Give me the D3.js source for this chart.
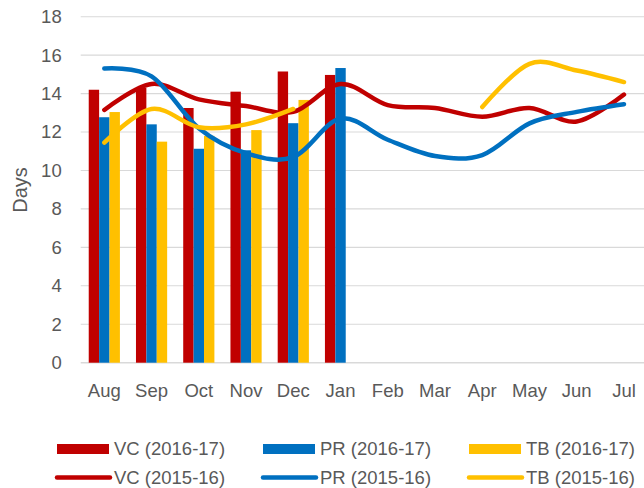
<!DOCTYPE html>
<html>
<head>
<meta charset="utf-8">
<script src="https://cdn.jsdelivr.net/npm/d3@7"></script>
<style>
  body { margin: 0; background: #fff; }
  svg { display: block; font-family: "Liberation Sans", Arial, sans-serif; }
</style>
</head>
<body>
<div id="chart"></div>
<script>
// Days per month: 2016-17 as bars, 2015-16 as smoothed lines

const months = ['Aug', 'Sep', 'Oct', 'Nov', 'Dec', 'Jan', 'Feb', 'Mar', 'Apr', 'May', 'Jun', 'Jul'];
const yTicks = [0, 2, 4, 6, 8, 10, 12, 14, 16, 18];

const vc1617 = [14.2, 14.3, 13.25, 14.1, 15.15, 14.97];
const pr1617 = [12.77, 12.4, 11.13, 11.05, 12.46, 15.33];
const tb1617 = [13.04, 11.5, 11.8, 12.1, 13.67, null];

const vc1516 = [13.15, 14.5, 13.7, 13.35, 13.05, 14.5, 13.4, 13.25, 12.8, 13.25, 12.55, 13.95];
const pr1516 = [15.3, 14.9, 12.2, 10.9, 10.7, 12.7, 11.6, 10.75, 10.8, 12.45, 13.05, 13.45];
const tb1516 = [11.45, 13.2, 12.25, 12.4, 13.2, null, null, null, 13.3, 15.55, 15.2, 14.6];

const barSeries = [
  {name: 'VC (2016-17)', values: vc1617, color: '#C00000'},
  {name: 'PR (2016-17)', values: pr1617, color: '#0070C0'},
  {name: 'TB (2016-17)', values: tb1617, color: '#FFC000'}
];
const lineSeries = [
  {name: 'VC (2015-16)', values: vc1516, color: '#C00000'},
  {name: 'PR (2015-16)', values: pr1516, color: '#0070C0'},
  {name: 'TB (2015-16)', values: tb1516, color: '#FFC000'}
];

const W = 644, H = 488;
const textColor = '#595959';
const fontSize = '18.5px';

const svg = d3.select('#chart')
  .append('svg')
  .attr('width', W)
  .attr('height', H);

svg.append('rect').attr('width', W).attr('height', H).attr('fill', '#fff');

const plotLeft = 80.7, plotRight = 647.6;

const x0 = d3.scaleBand()
  .domain(months)
  .range([plotLeft, plotRight])
  .paddingInner(0.34)
  .paddingOuter(0.17);

const x1 = d3.scaleBand()
  .domain(barSeries.map(d => d.name))
  .range([0, x0.bandwidth()]);

const y = d3.scaleLinear()
  .domain([0, 18])
  .range([362.7, 16.7]);

// Gridlines
svg.append('g')
  .selectAll('line')
  .data(yTicks)
  .enter()
  .append('line')
  .attr('x1', plotLeft)
  .attr('x2', plotRight)
  .attr('y1', d => y(d))
  .attr('y2', d => y(d))
  .attr('stroke', '#D9D9D9')
  .attr('stroke-width', d => d === 0 ? 1.6 : 1.1);

// Y axis labels
const yAxis = svg.append('g')
  .attr('transform', `translate(${plotLeft},0)`)
  .call(d3.axisLeft(y).tickValues(yTicks).tickSize(0).tickPadding(19));
yAxis.select('.domain').remove();
yAxis.selectAll('text')
  .style('font-size', fontSize)
  .style('font-family', '"Liberation Sans", Arial, sans-serif')
  .attr('fill', textColor);

// X axis labels
const xAxis = svg.append('g')
  .attr('transform', `translate(0,${y(0)})`)
  .call(d3.axisBottom(x0).tickSize(0));
xAxis.select('.domain').remove();
xAxis.selectAll('text')
  .attr('y', 34)
  .attr('dy', 0)
  .style('font-size', fontSize)
  .style('font-family', '"Liberation Sans", Arial, sans-serif')
  .attr('fill', textColor);

// Axis title
svg.append('text')
  .attr('transform', 'translate(26.5,190) rotate(-90)')
  .attr('text-anchor', 'middle')
  .style('font-size', '20px')
  .attr('fill', textColor)
  .text('Days');

// Bars
barSeries.forEach(s => {
  svg.append('g')
    .selectAll('rect')
    .data(s.values.map((v, i) => ({month: months[i], value: v})).filter(d => d.value != null))
    .enter()
    .append('rect')
    .attr('x', d => x0(d.month) + x1(s.name))
    .attr('y', d => y(d.value))
    .attr('width', x1.bandwidth())
    .attr('height', d => y(0) - y(d.value))
    .attr('fill', s.color);
});

// Smoothed lines
const line = d3.line()
  .defined(d => d.value != null)
  .x(d => x0(d.month) + x0.bandwidth() / 2)
  .y(d => y(d.value))
  .curve(d3.curveCardinal.tension(0));

lineSeries.forEach(s => {
  svg.append('path')
    .datum(s.values.map((v, i) => ({month: months[i], value: v})))
    .attr('fill', 'none')
    .attr('stroke', s.color)
    .attr('stroke-width', 4.5)
    .attr('stroke-linecap', 'round')
    .attr('stroke-linejoin', 'round')
    .attr('d', line);
});

// Legend
const legendCols = [57, 263, 469];
const legendRows = [449, 477.5];

barSeries.forEach((s, i) => {
  const g = svg.append('g').attr('transform', `translate(${legendCols[i]},${legendRows[0]})`);
  g.append('rect').attr('x', 0).attr('y', -5).attr('width', 52).attr('height', 10).attr('fill', s.color);
  g.append('text').attr('x', 57).attr('dy', '0.35em')
    .style('font-size', fontSize).attr('fill', textColor).text(s.name);
});

lineSeries.forEach((s, i) => {
  const g = svg.append('g').attr('transform', `translate(${legendCols[i]},${legendRows[1]})`);
  g.append('line').attr('x1', 0).attr('x2', 53).attr('y1', 0).attr('y2', 0)
    .attr('stroke', s.color).attr('stroke-width', 4.5).attr('stroke-linecap', 'round');
  g.append('text').attr('x', 57).attr('dy', '0.35em')
    .style('font-size', fontSize).attr('fill', textColor).text(s.name);
});
</script>
</body>
</html>
